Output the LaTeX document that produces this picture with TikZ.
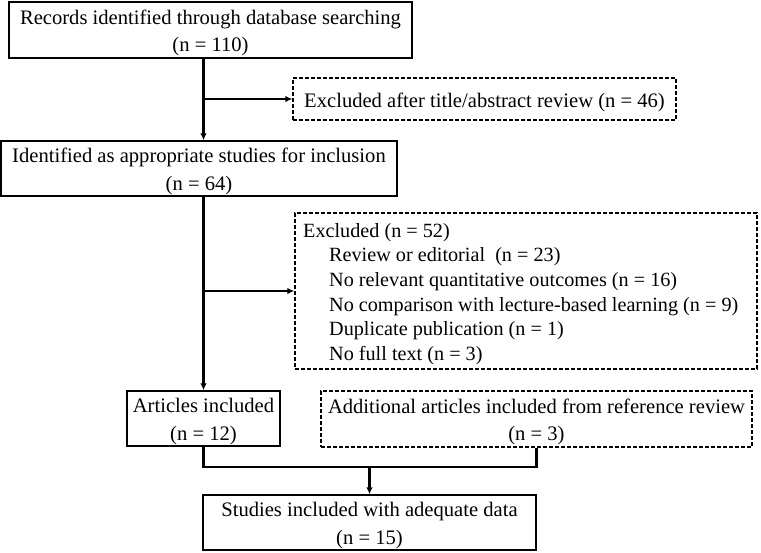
\documentclass[tikz,border=0pt]{standalone}
\usepackage{fontspec}
\setmainfont{Liberation Serif}
\usetikzlibrary{arrows.meta}
\newcommand{\upstrut}{\rule{0pt}{20.5pt}}
\begin{document}
\begin{tikzpicture}[x=1pt,y=-1pt,
  box/.style={draw, line width=1.4pt, align=center, inner sep=0pt, font=\fontsize{20.6}{27.5}\selectfont},
  dbox/.style={box, dash pattern=on 4pt off 2pt, line width=1.3pt},
  conn/.style={line width=2.2pt},
  arr/.style={conn, -{Latex[length=7pt,width=6.5pt]}}]
\useasboundingbox[fill=white] (0,0) rectangle (761,553);
\node[box, minimum width=403pt, minimum height=56pt] (rec) at (210.5,30) {\upstrut Records identified through database searching\\(n = 110)};
\node[dbox, minimum width=383pt, minimum height=42pt] (exc1) at (484.5,99) {\upstrut Excluded after title/abstract review (n = 46)};
\node[box, minimum width=396pt, minimum height=55pt] (id) at (199,168.5) {\upstrut Identified as appropriate studies for inclusion\\(n = 64)};
\node[dbox, minimum width=462pt, minimum height=156pt] (exc2) at (526,291) {};
\node[anchor=west, inner sep=0pt, align=left, font=\fontsize{20.2}{24.6}\selectfont] (exc2t) at (303,294) {Excluded (n = 52)\\
\hspace*{26pt}Review or editorial\ \ (n = 23)\\
\hspace*{26pt}No relevant quantitative outcomes (n = 16)\\
\hspace*{26pt}No comparison with lecture-based learning (n = 9)\\
\hspace*{26pt}Duplicate publication (n = 1)\\
\hspace*{26pt}No full text (n = 3)};
\node[box, minimum width=153pt, minimum height=55pt] (art) at (203.5,418.5) {\upstrut Articles included\\(n = 12)};
\node[dbox, minimum width=431pt, minimum height=56pt] (add) at (536.5,419) {\upstrut Additional articles included from reference review\\(n = 3)};
\node[box, minimum width=333pt, minimum height=55pt] (stud) at (369.5,522.5) {\upstrut Studies included with adequate data\\(n = 15)};
\coordinate (b1) at (art.north |- exc1.west);
\coordinate (b2) at (art.north |- exc2.west);
\coordinate (mL) at (203.5,467);
\coordinate (mR) at (add.south |- mL);
\coordinate (mC) at (stud.north |- mL);
\draw[arr] (rec.south -| art.north) -- (id.north -| art.north);
\draw[arr] (b1) -- (exc1.west);
\draw[arr] (id.south -| art.north) -- (art.north);
\draw[arr] (b2) -- (exc2.west);
\draw[conn] (art.south) -- (mL) -- (mR) -- (add.south);
\draw[arr] (mC) -- (stud.north);
\end{tikzpicture}
\end{document}
